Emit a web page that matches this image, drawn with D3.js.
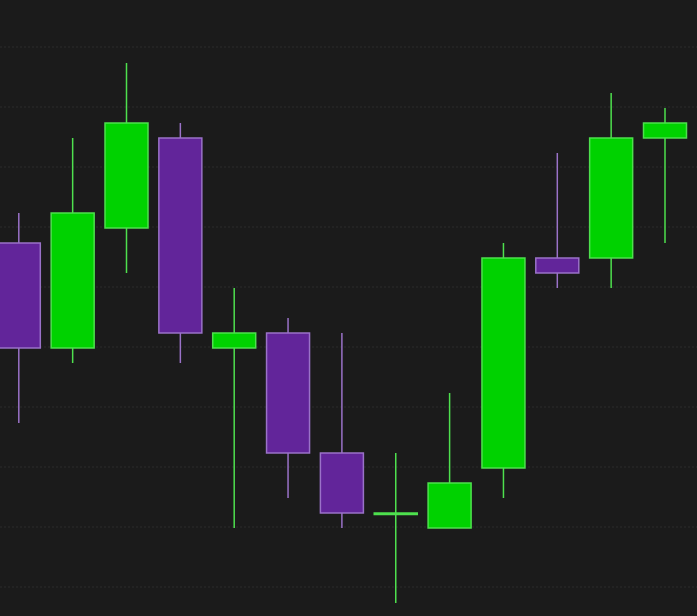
<!DOCTYPE html>
<html>
<head>
<meta charset="utf-8">
<script src="https://cdn.jsdelivr.net/npm/d3@7"></script>
<style>
  html, body { margin: 0; padding: 0; background: #1b1b1b; }
  svg { display: block; }
</style>
</head>
<body>
<div id="chart"></div>
<script>
// candle data (index, open, high, low, close)
const opens  = [157.5, 140, 160, 175, 140, 142.5, 122.5, 112.5, 110, 120, 155, 155, 175];
const highs  = [162.5, 175, 187.5, 177.5, 150, 145, 142.5, 122.5, 132.5, 157.5, 172.5, 182.5, 180];
const lows   = [127.5, 137.5, 152.5, 137.5, 110, 115, 110, 97.5, 110, 115, 150, 150, 157.5];
const closes = [140, 162.5, 177.5, 142.5, 142.5, 122.5, 112.5, 112.5, 117.5, 155, 152.5, 175, 177.5];
const gridTicks = [100, 110, 120, 130, 140, 150, 160, 170, 180, 190];

const width = 697, height = 616;

const candles = opens.map((o, i) => ({
  i, open: o, high: highs[i], low: lows[i], close: closes[i],
  up: closes[i] >= o
}));

const svg = d3.select("#chart").append("svg")
  .attr("width", width)
  .attr("height", height);

svg.append("rect")
  .attr("width", width).attr("height", height)
  .attr("fill", "#1b1b1b");

const x = d3.scaleLinear()
  .domain([0, 12])
  .range([18.8, 665]);

const y = d3.scaleLinear()
  .domain([100, 190])
  .range([588, 48]);

const bodyW = 43;

// ----- gridlines -----
svg.append("g")
  .selectAll("line")
  .data(gridTicks)
  .enter().append("line")
  .attr("x1", 0).attr("x2", width)
  .attr("y1", d => Math.round(y(d)) - 1)
  .attr("y2", d => Math.round(y(d)) - 1)
  .attr("stroke", "#2c2c2c")
  .attr("stroke-width", 1.2)
  .attr("stroke-dasharray", "2,2");

const colors = {
  up:   { fill: "#00d200", stroke: "#4ee04e" },
  down: { fill: "#62259a", stroke: "#9a72c8" }
};

const g = svg.append("g");

const candle = g.selectAll(".candle")
  .data(candles)
  .enter().append("g")
  .attr("class", "candle");

// wicks
candle.append("line")
  .attr("x1", d => x(d.i))
  .attr("x2", d => x(d.i))
  .attr("y1", d => y(d.high))
  .attr("y2", d => y(d.low))
  .attr("stroke", d => d.up ? colors.up.stroke : colors.down.stroke)
  .attr("stroke-width", 1.5);

// bodies
candle.append("rect")
  .attr("x", d => x(d.i) - bodyW / 2)
  .attr("y", d => y(Math.max(d.open, d.close)))
  .attr("width", bodyW)
  .attr("height", d => Math.max(1.5, Math.abs(y(d.open) - y(d.close))))
  .attr("fill", d => d.up ? colors.up.fill : colors.down.fill)
  .attr("stroke", d => d.up ? colors.up.stroke : colors.down.stroke)
  .attr("stroke-width", 1.5);
</script>
</body>
</html>
